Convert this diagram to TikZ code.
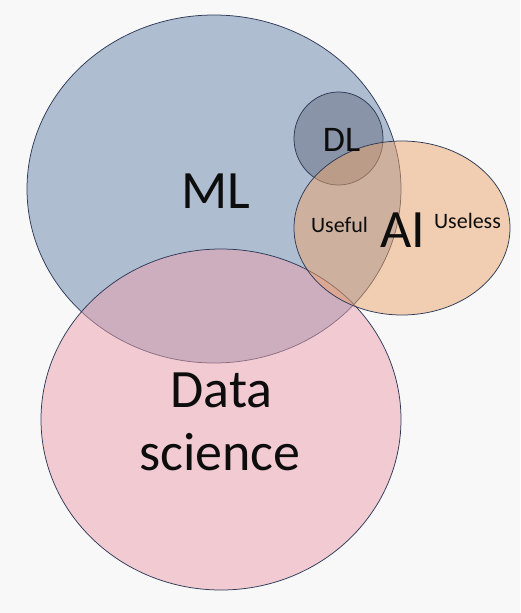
\documentclass[tikz,border=0pt]{standalone}
\usepackage{fontspec}
\setmainfont{Carlito}
\definecolor{bgcol}{HTML}{F8F8F8}
\definecolor{setline}{HTML}{2E3A58}
\definecolor{mlfill}{HTML}{6884AC}
\definecolor{dsfill}{HTML}{ECA0AC}
\definecolor{aifill}{HTML}{ECA46C}
\definecolor{dlfill}{HTML}{646C80}

\begin{document}
\begin{tikzpicture}[x=1pt, y=-1pt,
set/.style={draw=setline, line width=0.75pt, fill opacity=0.5},
label/.style={inner sep=0pt, anchor=base, text=black!95},
huge/.style={label, font=\fontsize{54}{60}\selectfont},
mid/.style={label, font=\fontsize{36}{40}\selectfont},
small/.style={label, font=\fontsize{22}{26}\selectfont},
]
%Background
\fill[bgcol] (0,0) rectangle (520,613);
\useasboundingbox (0,0) rectangle (520,613);

%Sets
\draw[set, fill=mlfill] (214,189) ellipse [x radius=187pt, y radius=174pt];
\draw[set, fill=dsfill] (221,419.5) ellipse [x radius=180pt, y radius=170.5pt];
\draw[set, fill=dlfill] (338.5,138.5) ellipse [x radius=44.5pt, y radius=46.5pt];
\draw[set, fill=aifill] (402,228) ellipse [x radius=108pt, y radius=87pt];

%Labels
\node[huge] (ml) at (216,208) {ML};
\node[mid] (dl) at (341.5,151) {DL};
\node[huge] (ai) at (403,247) {AI};
\node[small] (useful) at (339.5,232) {Useful};
\node[small] (useless) at (467.5,228) {Useless};
\node[huge] (data) at (221.5,407) {Data};
\node[huge] (science) at (220,470) {science};
\end{tikzpicture}
\end{document}
